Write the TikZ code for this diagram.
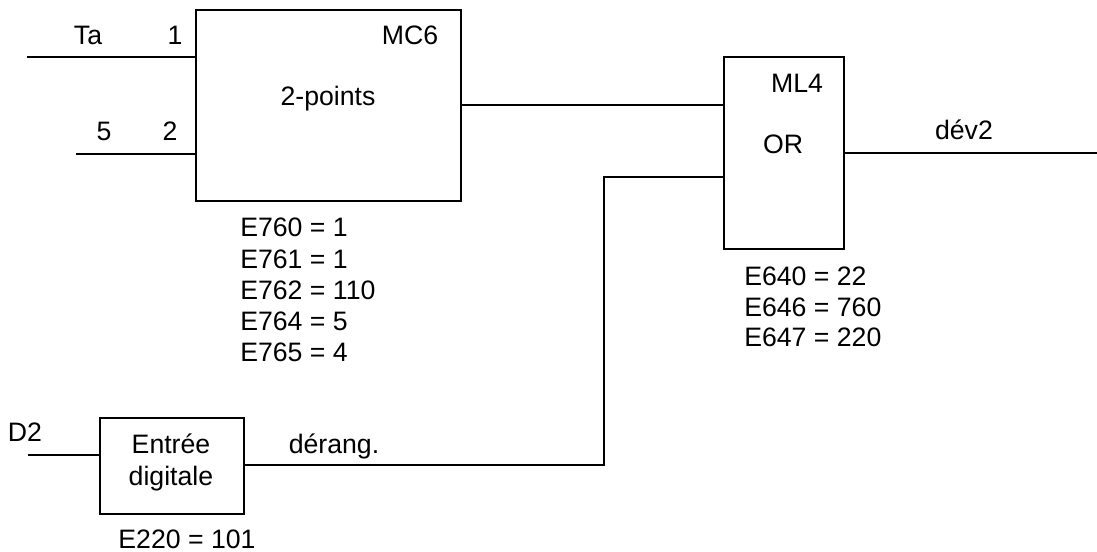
\documentclass[tikz,border=0pt]{standalone}
\usepackage{fontspec}
\setmainfont{Liberation Sans}
\usetikzlibrary{fit}
\begin{document}
\begin{tikzpicture}[x=0.75pt,y=-0.75pt,
  wire/.style={line width=1.2pt},
  box/.style={draw,line width=1.2pt,inner sep=0pt},
  lbl/.style={inner sep=0pt,anchor=base,font=\fontsize{20}{23}\selectfont},
  lst/.style={inner sep=0pt,anchor=base west,font=\fontsize{20}{23}\selectfont}]
\useasboundingbox (0,0) rectangle (1097,552);
% boxes
\coordinate (mc6nw) at (196,10);  \coordinate (mc6se) at (461,201);
\node[box,fit=(mc6nw)(mc6se)] (mc6) {};
\coordinate (ml4nw) at (724,57);  \coordinate (ml4se) at (844,249);
\node[box,fit=(ml4nw)(ml4se)] (ml4) {};
\coordinate (dinw) at (100,418);  \coordinate (dise) at (244,514);
\node[box,fit=(dinw)(dise)] (di) {};
% free ends
\coordinate (ta) at (27,57);
\coordinate (five) at (76,154);
\coordinate (d2) at (28,455);
\coordinate (out) at (1097,153);
\coordinate (bend) at (604,177);
% connectors
\draw[wire] (ta) -- (ta -| mc6.west);
\draw[wire] (five) -- (five -| mc6.west);
\draw[wire] (mc6.east |- 0,105) -- (ml4.west |- 0,105);
\draw[wire] (ml4.east |- out) -- (out);
\draw[wire] (d2) -- (d2 -| di.west);
\draw[wire] (di.east |- 0,465) -- (bend |- 0,465) -- (bend) -- (bend -| ml4.west);
% labels
\node[lbl] (tTa) at (88,45) {Ta};
\node[lbl] (t1) at (175,45) {1};
\node[lbl] (tMC6) at (410,45) {MC6};
\node[lbl] (t2p) at (328,106) {2-points};
\node[lbl] (t5) at (104,141) {5};
\node[lbl] (t2) at (170,141) {2};
\node[lbl] (tML4) at (797,93) {ML4};
\node[lbl] (tOR) at (783,154) {OR};
\node[lbl] (tdev) at (964,140) {dév2};
\node[lbl] (tD2) at (25,441) {D2};
\node[lbl] (tEn) at (171,454) {Entrée};
\node[lbl] (tdig) at (171,485) {digitale};
\node[lbl] (tder) at (334,454) {dérang.};
\node[lbl] (tE220) at (187,548) {E220 = 101};
\node[lst] (e760) at (240,237) {E760 = 1};
\node[lst] (e761) at (240,269) {E761 = 1};
\node[lst] (e762) at (240,300) {E762 = 110};
\node[lst] (e764) at (240,331) {E764 = 5};
\node[lst] (e765) at (240,362) {E765 = 4};
\node[lst] (e640) at (744,286) {E640 = 22};
\node[lst] (e646) at (744,317) {E646 = 760};
\node[lst] (e647) at (744,347) {E647 = 220};
\end{tikzpicture}
\end{document}
